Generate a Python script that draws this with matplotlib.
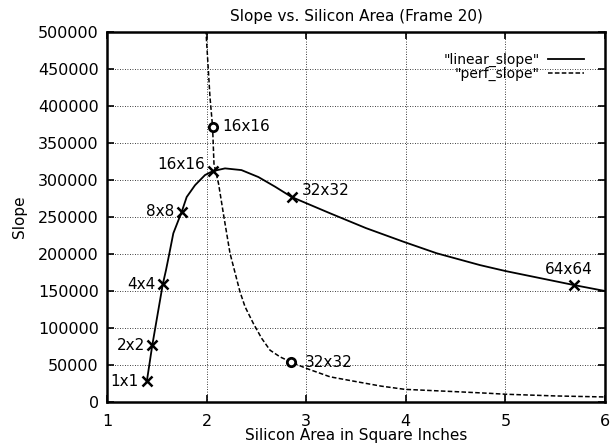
import matplotlib
matplotlib.use("Agg")
import matplotlib.pyplot as plt

# values
linear_x = [1.40, 1.455, 1.56, 1.592, 1.625, 1.666, 1.75, 1.80, 1.884, 1.984, 2.062,
            2.185, 2.35, 2.52, 2.687, 2.854, 3.24, 3.60, 3.976, 4.31, 4.745, 5.0,
            5.69, 6.0]
linear_y = [28000, 77000, 159000, 178000, 200000, 228000, 257000, 277000, 293000,
            306700, 312000, 315700, 313400, 304000, 291000, 277000, 255000, 235000,
            216600, 201000, 185000, 177000, 158000, 150000]

perf_x = [1.975, 1.994, 2.034, 2.06, 2.074, 2.12, 2.174, 2.235, 2.335, 2.386, 2.47,
          2.553, 2.637, 2.737, 2.847, 3.0, 3.24, 3.507, 3.75, 3.99, 4.51, 4.845,
          5.0, 5.5, 6.0]
perf_y = [540000, 500000, 412000, 372000, 322000, 295000, 250000, 201000, 149000,
          128700, 106000, 86000, 70000, 61000, 54000, 45500, 34000, 27400, 21500,
          17100, 13900, 11700, 10500, 8200, 6800]

linear_pts_x = [1.40, 1.455, 1.56, 1.75, 2.062, 2.854, 5.69]
linear_pts_y = [28000, 77000, 159000, 257000, 312000, 277000, 158000]
linear_labels = ["1x1", "2x2", "4x4", "8x8", "16x16", "32x32", "64x64"]

perf_pts_x = [2.065, 2.847]
perf_pts_y = [372000, 54000]
perf_labels = ["16x16", "32x32"]

plt.rcParams['font.family'] = ['DejaVu Sans']
plt.rcParams['font.size'] = 11.5

fig = plt.figure(figsize=(6.16, 4.47), dpi=100)
ax = fig.add_axes([107 / 616, 1 - 402 / 447, 498 / 616, 370 / 447])

ax.plot(linear_x, linear_y, color='black', lw=1.3, label='"linear_slope"')
ax.plot(perf_x, perf_y, color='black', lw=1.1, linestyle=(0, (3, 1.5)),
        label='"perf_slope"')

ax.plot(linear_pts_x, linear_pts_y, linestyle='none', marker='x', color='black',
        markersize=7, markeredgewidth=1.8)
ax.plot(perf_pts_x, perf_pts_y, linestyle='none', marker='o', color='black',
        markerfacecolor='white', markersize=6, markeredgewidth=2)

# label offsets (points) for the linear markers
lin_off = [(-6, 0, 'right'), (-5, 0, 'right'), (-5, 0, 'right'), (-5.5, 0, 'right'),
           (-5.5, 5, 'right'), (7, 5, 'left'), (-4, 11, 'center')]
for x, y, t, (dx, dy, ha) in zip(linear_pts_x, linear_pts_y, linear_labels, lin_off):
    ax.annotate(t, (x, y), xytext=(dx, dy), textcoords='offset points',
                ha=ha, va='center', fontsize=11)

perf_off = [(7, 0), (10, 0)]
for x, y, t, (dx, dy) in zip(perf_pts_x, perf_pts_y, perf_labels, perf_off):
    ax.annotate(t, (x, y), xytext=(dx, dy), textcoords='offset points',
                ha='left', va='center', fontsize=11)

ax.set_xlim(1, 6)
ax.set_ylim(0, 500000)
ax.set_xticks(range(1, 7))
ax.set_yticks(range(0, 500001, 50000))
ax.ticklabel_format(style='plain', axis='y')
ax.tick_params(direction='in', top=True, right=True, length=5, width=1.2,
               labelsize=11.5)
ax.tick_params(axis='x', pad=9)
ax.tick_params(axis='y', pad=6)
ax.grid(True, color='black', linestyle=(0, (1, 2)), linewidth=0.6)
for s in ax.spines.values():
    s.set_linewidth(1.8)

ax.set_title('Slope vs. Silicon Area (Frame 20)', fontsize=11, pad=8)
ax.set_xlabel('Silicon Area in Square Inches', fontsize=11, labelpad=-1)
ax.set_ylabel('Slope', fontsize=11, labelpad=8)

leg = ax.legend(loc='upper right', frameon=False, markerfirst=False,
                handlelength=2.6, fontsize=10, borderaxespad=1.2,
                labelspacing=0.0, handletextpad=0.6, borderpad=0.3)
for t in leg.get_texts():
    t.set_ha('right')

fig.savefig('out.png', dpi=100)
